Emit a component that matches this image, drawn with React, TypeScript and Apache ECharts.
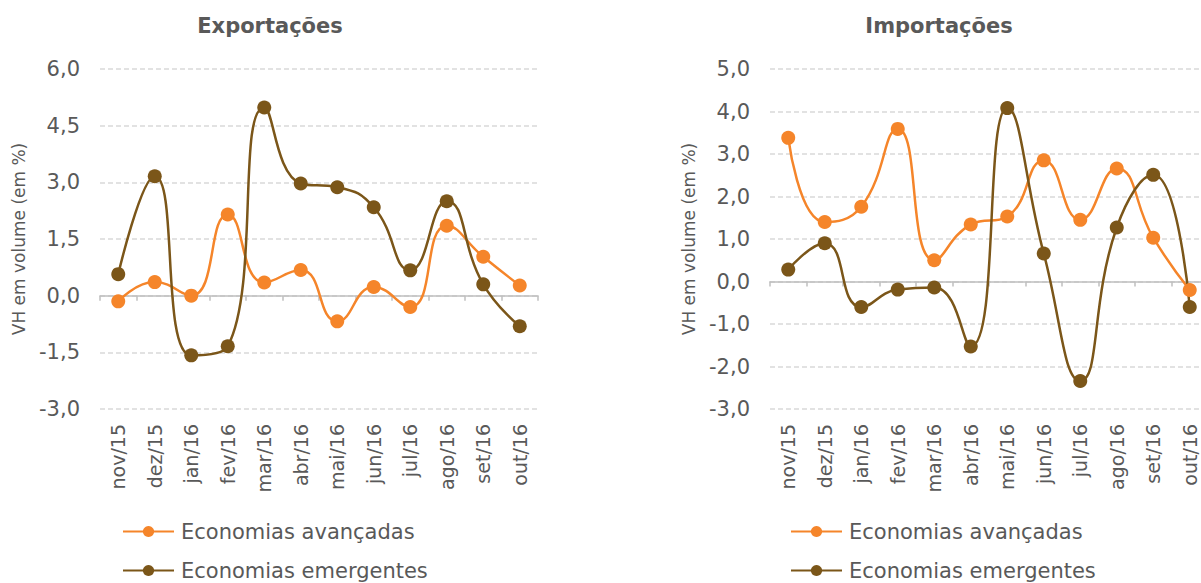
import React, { useEffect, useRef } from "react";
import * as echarts from "echarts";

const categories = ["nov/15", "dez/15", "jan/16", "fev/16", "mar/16", "abr/16", "mai/16", "jun/16", "jul/16", "ago/16", "set/16", "out/16"];

const expAvancadas = [-0.15, 0.36, 0.0, 2.15, 0.35, 0.68, -0.68, 0.23, -0.3, 1.85, 1.03, 0.27];
const expEmergentes = [0.57, 3.16, -1.58, -1.34, 4.98, 2.97, 2.87, 2.34, 0.67, 2.5, 0.3, -0.81];

const impAvancadas = [3.38, 1.4, 1.76, 3.59, 0.5, 1.34, 1.53, 2.85, 1.45, 2.66, 1.03, -0.2];
const impEmergentes = [0.28, 0.9, -0.6, -0.19, -0.14, -1.53, 4.08, 0.66, -2.34, 1.27, 2.51, -0.6];

const seriesNames = ["Economias avançadas", "Economias emergentes"];
const titles = ["Exportações", "Importações"];
const yAxisName = "VH em volume (em %)";

const ORANGE = "#F5852A";
const BROWN = "#7B5619";
const TEXT = "#595959";
const FONT = "DejaVu Sans, Verdana, sans-serif";

export default function App() {
  const ref = useRef<HTMLDivElement>(null);

  useEffect(() => {
    if (!ref.current) return;
    const chart = echarts.init(ref.current, null, { renderer: "svg" });

    const fmt = (v: number) => v.toFixed(1).replace(".", ",");

    const grids = [
      { left: 100, width: 438, top: 69, height: 340, containLabel: false, outerBoundsMode: "none" },
      { left: 770, width: 438, top: 69, height: 340, containLabel: false, outerBoundsMode: "none" },
    ];

    const yAxes = [
      { min: -3, max: 6, interval: 1.5 },
      { min: -3, max: 5, interval: 1 },
    ].map((r, i) => ({
      type: "value",
      gridIndex: i,
      min: r.min,
      max: r.max,
      interval: r.interval,
      name: yAxisName,
      nameLocation: "middle",
      nameGap: 73,
      nameTextStyle: { color: TEXT, fontSize: 17, fontFamily: FONT },
      axisLine: { show: false },
      axisTick: { show: false },
      axisLabel: { color: TEXT, fontSize: 21, fontFamily: FONT, margin: 20, formatter: fmt },
      splitLine: { show: true, lineStyle: { color: "#D9D9D9", width: 1.5, type: [5, 3] } },
    }));

    const xAxes: any[] = [];
    [0, 1].forEach((i) => {
      xAxes.push({
        type: "category",
        gridIndex: i,
        data: categories,
        position: "bottom",
        boundaryGap: true,
        axisLine: { show: false, onZero: false },
        axisTick: { show: false },
        splitLine: { show: false },
        axisLabel: { color: TEXT, fontSize: 19, fontFamily: FONT, rotate: 90, margin: 15, interval: 0 },
      });
      xAxes.push({
        type: "category",
        gridIndex: i,
        data: categories,
        position: "top",
        boundaryGap: true,
        axisLine: { show: true, onZero: true, lineStyle: { color: "#BFBFBF", width: 1.5 } },
        axisTick: { show: true, inside: true, length: 5, interval: 0, lineStyle: { color: "#BFBFBF", width: 1.5 } },
        axisLabel: { show: false },
        splitLine: { show: false },
      });
    });

    const mk = (name: string, color: string, data: number[], gi: number) => ({
      name,
      type: "line",
      xAxisIndex: gi * 2,
      yAxisIndex: gi,
      data,
      smooth: 0.5,
      symbol: "circle",
      symbolSize: 14,
      lineStyle: { color, width: 2.5 },
      itemStyle: { color },
      emphasis: { disabled: true },
    });

    const legends: any[] = [];
    [122, 790].forEach((left) => {
      seriesNames.forEach((n, k) => {
        legends.push({
          orient: "vertical",
          left,
          top: 521 + k * 39,
          padding: 0,
          itemWidth: 51,
          itemHeight: 14,
          data: [n],
          textStyle: { color: TEXT, fontSize: 21, fontFamily: FONT, padding: [0, 0, 0, 2] },
          selectedMode: false,
        });
      });
    });

    chart.setOption({
      animation: false,
      backgroundColor: "#FFFFFF",
      grid: grids,
      xAxis: xAxes,
      yAxis: yAxes,
      legend: legends,
      graphic: [
        {
          type: "text",
          x: 270,
          y: 26,
          style: { text: titles[0], fill: TEXT, font: `bold 21px ${FONT}`, textAlign: "center", textVerticalAlign: "middle" },
        },
        {
          type: "text",
          x: 939,
          y: 26,
          style: { text: titles[1], fill: TEXT, font: `bold 21px ${FONT}`, textAlign: "center", textVerticalAlign: "middle" },
        },
      ],
      series: [
        mk(seriesNames[0], ORANGE, expAvancadas, 0),
        mk(seriesNames[1], BROWN, expEmergentes, 0),
        mk(seriesNames[0], ORANGE, impAvancadas, 1),
        mk(seriesNames[1], BROWN, impEmergentes, 1),
      ],
    });

    return () => chart.dispose();
  }, []);

  return <div ref={ref} style={{ position: "absolute", left: 0, top: 0, width: 1201, height: 583 }} />;
}
